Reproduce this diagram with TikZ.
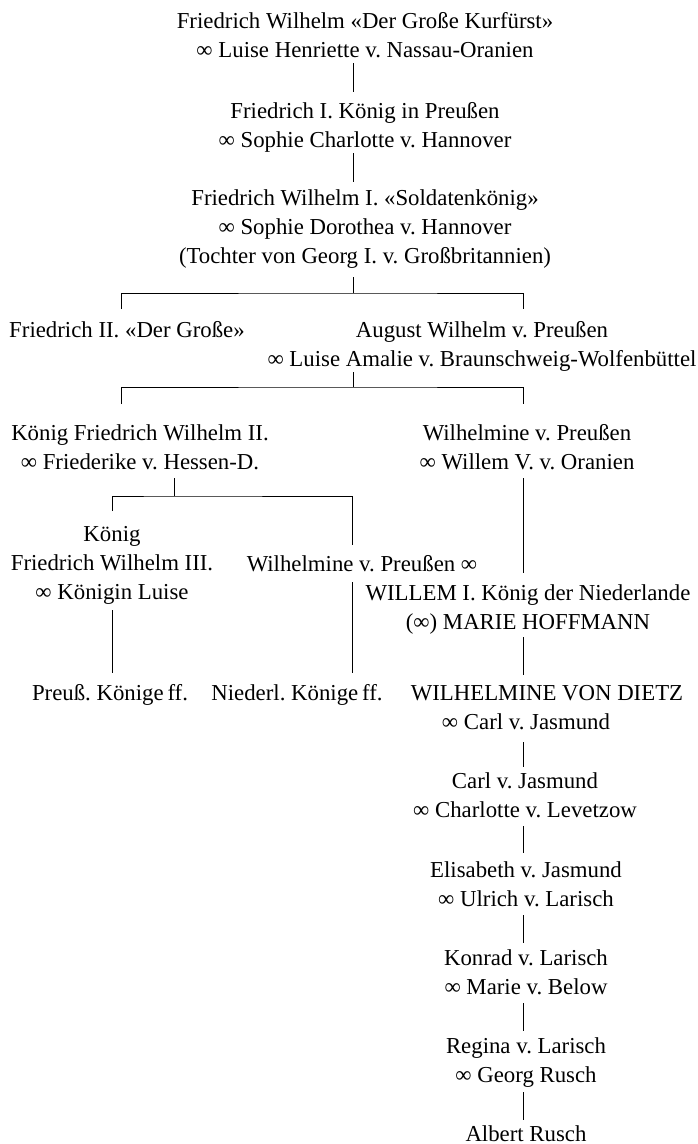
\documentclass[tikz,border=0pt]{standalone}
\usepackage{fontspec}
\setmainfont{Liberation Serif}
\frenchspacing
\newcommand\fst{\rule{0pt}{20pt}}
\tikzset{
  person/.style={align=center, inner sep=0pt, anchor=north,
    font=\fontsize{22.8}{29.2}\selectfont},
  link/.style={line width=0.8pt, draw=black},
}
\begin{document}
\begin{tikzpicture}[x=1pt,y=-1pt]
\useasboundingbox (0,0) rectangle (697,1144);
% persons (anchor north = first baseline - 20)
\node[person] (A) at (365,8)   {\fst Friedrich Wilhelm «Der Große Kurfürst»\\∞ Luise Henriette v. Nassau-Oranien};
\node[person] (B) at (365,98)  {\fst Friedrich I. König in Preußen\\∞ Sophie Charlotte v. Hannover};
\node[person] (C) at (365,185) {\fst Friedrich Wilhelm I. «Soldatenkönig»\\∞ Sophie Dorothea v. Hannover\\(Tochter von Georg I. v. Großbritannien)};
\node[person] (D) at (127,317) {\fst Friedrich II. «Der Große»};
\node[person] (E) at (482,317) {\fst August Wilhelm v. Preußen\\∞ Luise Amalie v. Braunschweig-Wolfenbüttel};
\node[person] (F) at (140,420) {\fst König Friedrich Wilhelm II.\\∞ Friederike v. Hessen-D.};
\node[person] (G) at (527,420) {\fst Wilhelmine v. Preußen\\∞ Willem V. v. Oranien};
\node[person] (H) at (112,521) {\fst König\\Friedrich Wilhelm III.\\∞ Königin Luise};
\node[person] (I) at (362,551) {\fst Wilhelmine v. Preußen ∞};
\node[person] (J) at (528,580) {\fst WILLEM I. König der Niederlande\\(∞) MARIE HOFFMANN};
\node[person] (K) at (110,680) {\fst Preuß. Könige\,ff.};
\node[person] (L) at (297,680) {\fst Niederl. Könige\,ff.};
\node[person] (M) at (547,680) {\fst WILHELMINE VON DIETZ};
\node[person] (Mx) at (526,709) {\fst ∞ Carl v. Jasmund};
\node[person] (N) at (525,768) {\fst Carl v. Jasmund\\∞ Charlotte v. Levetzow};
\node[person] (O) at (526,857) {\fst Elisabeth v. Jasmund\\∞ Ulrich v. Larisch};
\node[person] (P) at (526,945) {\fst Konrad v. Larisch\\∞ Marie v. Below};
\node[person] (Q) at (526,1033) {\fst Regina v. Larisch\\∞ Georg Rusch};
\node[person] (R) at (526,1121) {\fst Albert Rusch};
% connector end points
\coordinate (A-o) at (353,63);   \coordinate (B-i) at (353,92);
\coordinate (B-o) at (353,153);  \coordinate (C-i) at (353,182);
\coordinate (C-o) at (353,277);  \coordinate (C-j) at (353,293);
\coordinate (D-i) at (121,309);  \coordinate (E-i) at (523,309);
\coordinate (E-o) at (353,372);  \coordinate (E-j) at (353,387);
\coordinate (F-i) at (121,404);  \coordinate (G-i) at (523,404);
\coordinate (F-o) at (174,478);  \coordinate (F-j) at (174,496);
\coordinate (H-i) at (112,511);  \coordinate (I-i) at (352,545);
\coordinate (G-o) at (523,478);  \coordinate (J-i) at (523,573);
\coordinate (H-o) at (112,610);  \coordinate (K-i) at (112,673);
\coordinate (I-o) at (352,582);  \coordinate (L-i) at (352,673);
\coordinate (J-o) at (523,637);  \coordinate (M-i) at (523,675);
\coordinate (M-o) at (523,742);  \coordinate (N-i) at (523,767);
\coordinate (N-o) at (523,826);  \coordinate (O-i) at (523,853);
\coordinate (O-o) at (523,915);  \coordinate (P-i) at (523,943);
\coordinate (P-o) at (523,1003); \coordinate (Q-i) at (523,1031);
\coordinate (Q-o) at (523,1092); \coordinate (R-i) at (523,1120);
% connectors
\draw[link] (A-o) -- (B-i);
\draw[link] (B-o) -- (C-i);
\draw[link] (C-o) -- (C-j);
\draw[link] (D-i) |- (C-j) -| (E-i);
\draw[link] (E-o) -- (E-j);
\draw[link] (F-i) |- (E-j) -| (G-i);
\draw[link] (F-o) -- (F-j);
\draw[link] (H-i) |- (F-j) -| (I-i);
\draw[link] (G-o) -- (J-i);
\draw[link] (H-o) -- (K-i);
\draw[link] (I-o) -- (L-i);
\draw[link] (J-o) -- (M-i);
\draw[link] (M-o) -- (N-i);
\draw[link] (N-o) -- (O-i);
\draw[link] (O-o) -- (P-i);
\draw[link] (P-o) -- (Q-i);
\draw[link] (Q-o) -- (R-i);
\end{tikzpicture}
\end{document}
